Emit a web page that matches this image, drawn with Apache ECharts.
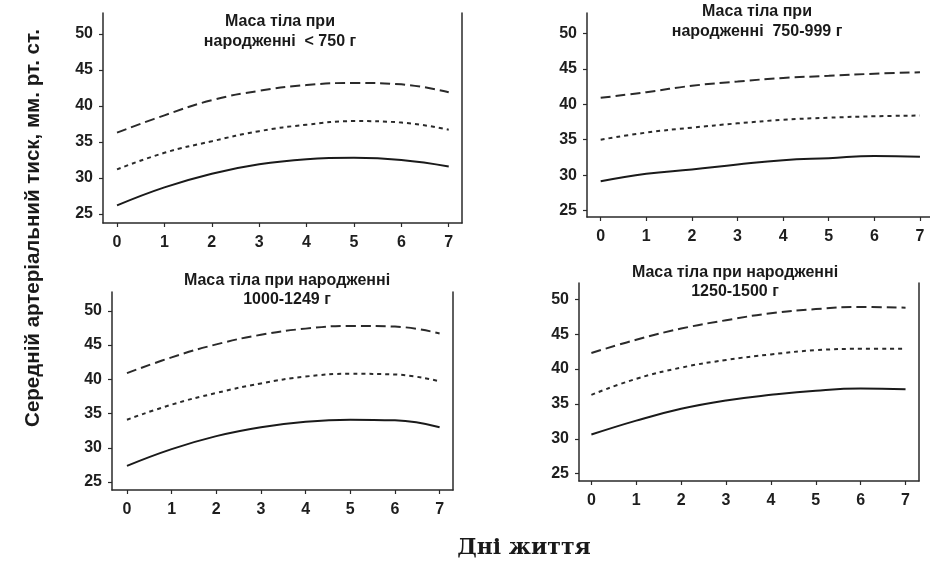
<!DOCTYPE html>
<html>
<head>
<meta charset="utf-8">
<script src="https://cdn.jsdelivr.net/npm/echarts@6/dist/echarts.min.js"></script>
<style>html,body{margin:0;padding:0;background:#fff}#c{width:930px;height:562px}</style>
</head>
<body>
<div id="c"></div>
<script>
// ---- data ----
const days = [0, 1, 2, 3, 4, 5, 6, 7];
const yTicks = [25, 30, 35, 40, 45, 50];
const panelTitles = [
  ['Маса тіла при', 'народженні  < 750 г'],
  ['Маса тіла при', 'народженні  750-999 г'],
  ['Маса тіла при народженні', '1000-1249 г'],
  ['Маса тіла при народженні', '1250-1500 г']
];
// panel 1: < 750 g
const p1Solid  = [26.2, 28.7, 30.6, 31.9, 32.6, 32.8, 32.5, 31.6];
const p1Short  = [31.2, 33.5, 35.1, 36.5, 37.4, 37.9, 37.7, 36.7];
const p1Long   = [36.3, 38.7, 40.8, 42.1, 42.9, 43.2, 43.0, 41.9];
// panel 2: 750-999 g
const p2Solid  = [29.15, 30.2, 30.8, 31.5, 32.1, 32.4, 32.7, 32.6];
const p2Short  = [35.0, 36.0, 36.7, 37.3, 37.8, 38.1, 38.3, 38.4];
const p2Long   = [40.9, 41.7, 42.6, 43.2, 43.7, 44.0, 44.3, 44.5];
// panel 3: 1000-1249 g
const p3Solid  = [27.35, 29.8, 31.7, 33.0, 33.8, 34.1, 34.0, 33.0];
const p3Short  = [34.1, 36.3, 38.0, 39.4, 40.4, 40.8, 40.7, 39.7];
const p3Long   = [40.9, 43.2, 45.1, 46.5, 47.4, 47.8, 47.7, 46.7];
// panel 4: 1250-1500 g
const p4Solid  = [30.6, 32.6, 34.3, 35.5, 36.3, 36.9, 37.2, 37.1];
const p4Short  = [36.3, 38.6, 40.2, 41.3, 42.1, 42.7, 42.9, 42.9];
const p4Long   = [42.3, 44.2, 45.8, 47.0, 48.0, 48.6, 48.9, 48.8];

const yTitle = 'Середній артеріальний тиск, мм. рт. ст.';
const xTitle = 'Дні життя';

// ---- layout ----
const panels = [
  {left: 103, top: 13, w: 359, h: 210, xmin: -0.296, xmax: 7.28, ymin: 23.76, ymax: 52.9, right: true,
   data: [p1Solid, p1Short, p1Long], tx: 280, ty: [22, 42]},
  {left: 587, top: 13, w: 343, h: 204, xmin: -0.3, xmax: 7.22, ymin: 24.1, ymax: 52.86, right: false,
   data: [p2Solid, p2Short, p2Long], tx: 757, ty: [12, 32]},
  {left: 112, top: 292, w: 341, h: 198, xmin: -0.335, xmax: 7.3, ymin: 23.83, ymax: 52.75, right: true,
   data: [p3Solid, p3Short, p3Long], tx: 287, ty: [281, 300]},
  {left: 579, top: 283, w: 340, h: 198, xmin: -0.276, xmax: 7.3, ymin: 23.94, ymax: 52.34, right: true,
   data: [p4Solid, p4Short, p4Long], tx: 735, ty: [273, 292]}
];

const axisColor = '#2a2a2a';
const labelFont = {color: '#1e1e1e', fontSize: 16, fontWeight: 'bold', fontFamily: 'Liberation Sans, Arial, sans-serif'};

const grid = [], xAxis = [], yAxis = [], series = [], graphic = [];
const styles = [
  {type: 'solid', color: '#1a1a1a'},
  {type: [4, 4], color: '#2a2a2a'},
  {type: [10, 5], color: '#2a2a2a'}
];

panels.forEach((p, i) => {
  grid.push({left: p.left, top: p.top, width: p.w, height: p.h, outerBoundsMode: 'none', containLabel: false});
  xAxis.push({
    type: 'value', gridIndex: i, min: p.xmin, max: p.xmax,
    axisLine: {show: true, onZero: false, lineStyle: {color: axisColor, width: 1.5}},
    axisTick: {show: true, length: 4, lineStyle: {color: axisColor, width: 1.2}, customValues: days},
    axisLabel: Object.assign({show: true, margin: 12, customValues: days, formatter: v => String(v)}, labelFont),
    splitLine: {show: false}
  });
  yAxis.push({
    type: 'value', gridIndex: i, min: p.ymin, max: p.ymax,
    axisLine: {show: true, onZero: false, lineStyle: {color: axisColor, width: 1.5}},
    axisTick: {show: true, length: 4, lineStyle: {color: axisColor, width: 1.2}, customValues: yTicks},
    axisLabel: Object.assign({show: true, margin: 10, customValues: yTicks, formatter: v => String(v)}, labelFont),
    splitLine: {show: false}
  });
  p.data.forEach((arr, k) => {
    series.push({
      type: 'line', xAxisIndex: i, yAxisIndex: i, smooth: 0.45, symbol: 'none',
      data: days.map((d, j) => [d, arr[j]]),
      lineStyle: {type: styles[k].type, color: styles[k].color, width: 2},
      silent: true, animation: false
    });
  });
});

// right border lines
panels.forEach((p, i) => {
  if (p.right) {
    yAxis.push({
      type: 'value', gridIndex: i, position: 'right', min: p.ymin, max: p.ymax,
      axisLine: {show: true, onZero: false, lineStyle: {color: axisColor, width: 1.5}},
      axisTick: {show: false}, axisLabel: {show: false}, splitLine: {show: false}
    });
  }
});

const titleFont = 'bold 16px "Liberation Sans", Arial, sans-serif';
panels.forEach((p, i) => {
  [0, 1].forEach(l => {
    graphic.push({
      type: 'text', x: p.tx, y: p.ty[l], silent: true,
      style: {text: panelTitles[i][l], font: titleFont, fill: '#1a1a1a',
              align: 'center', verticalAlign: 'middle', textAlign: 'center', textVerticalAlign: 'middle'}
    });
  });
});
graphic.push({
  type: 'text', x: 33, y: 228, rotation: Math.PI / 2, silent: true,
  style: {text: yTitle, font: 'bold 20.5px "Liberation Sans", Arial, sans-serif', fill: '#1a1a1a',
          align: 'center', verticalAlign: 'middle', textAlign: 'center', textVerticalAlign: 'middle'}
});
graphic.push({
  type: 'text', x: 524, y: 548, silent: true,
  style: {text: xTitle, font: 'bold 22px "DejaVu Serif", serif', fill: '#1a1a1a',
          align: 'center', verticalAlign: 'middle', textAlign: 'center', textVerticalAlign: 'middle'}
});

const chart = echarts.init(document.getElementById('c'), null, {renderer: 'canvas'});
chart.setOption({
  animation: false,
  backgroundColor: '#fff',
  grid, xAxis, yAxis, series, graphic
});
</script>
</body>
</html>
